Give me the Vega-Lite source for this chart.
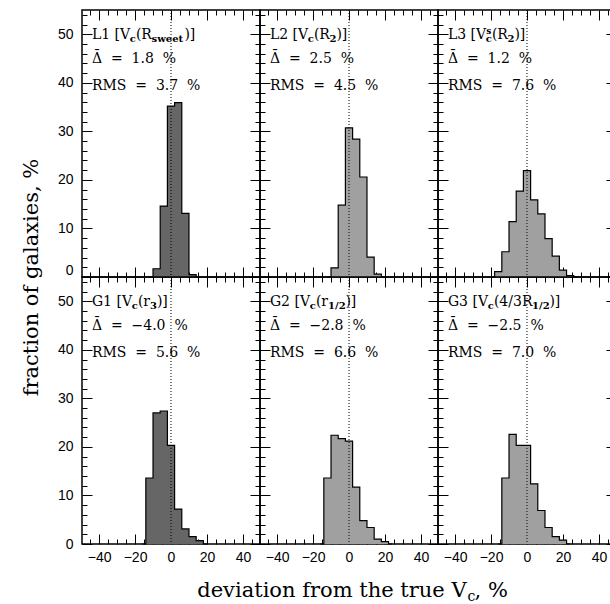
{
  "$schema": "https://vega.github.io/schema/vega-lite/v6.json",
  "background": "white",
  "padding": {"left": 19, "top": 7, "right": 0, "bottom": 0},
  "config": {
    "view": {"stroke": "black", "strokeWidth": 1.5},
    "axis": {"labelFont": "Liberation Sans", "labelFontSize": 14, "labelColor": "black", "tickColor": "black", "tickWidth": 1, "domain": false, "grid": false, "labelPadding": 19, "labelOverlap": false, "labelFlush": false},
    "text": {"font": "DejaVu Serif", "fontSize": 14, "align": "left", "baseline": "alphabetic", "color": "black"}
  },
  "datasets": {
    "h": [
      {"p": "L1", "d": -12, "f": 0}, {"p": "L1", "d": -8, "f": 1.7}, {"p": "L1", "d": -4, "f": 14.6}, {"p": "L1", "d": 0, "f": 35.2}, {"p": "L1", "d": 4, "f": 35.9}, {"p": "L1", "d": 8, "f": 13.1}, {"p": "L1", "d": 12, "f": 0.5}, {"p": "L1", "d": 16, "f": 0},
      {"p": "L2", "d": -12, "f": 0}, {"p": "L2", "d": -8, "f": 1.9}, {"p": "L2", "d": -4, "f": 14.8}, {"p": "L2", "d": 0, "f": 30.7}, {"p": "L2", "d": 4, "f": 28.4}, {"p": "L2", "d": 8, "f": 20.6}, {"p": "L2", "d": 12, "f": 4.1}, {"p": "L2", "d": 16, "f": 0.6}, {"p": "L2", "d": 20, "f": 0},
      {"p": "L3", "d": -20, "f": 0}, {"p": "L3", "d": -16, "f": 1.1}, {"p": "L3", "d": -12, "f": 5.2}, {"p": "L3", "d": -8, "f": 11.4}, {"p": "L3", "d": -4, "f": 17.7}, {"p": "L3", "d": 0, "f": 21.9}, {"p": "L3", "d": 4, "f": 15.9}, {"p": "L3", "d": 8, "f": 13.0}, {"p": "L3", "d": 12, "f": 7.9}, {"p": "L3", "d": 16, "f": 4.3}, {"p": "L3", "d": 20, "f": 1.4}, {"p": "L3", "d": 24, "f": 0.3}, {"p": "L3", "d": 28, "f": 0},
      {"p": "G1", "d": -16, "f": 0}, {"p": "G1", "d": -12, "f": 13.6}, {"p": "G1", "d": -8, "f": 27.0}, {"p": "G1", "d": -4, "f": 27.4}, {"p": "G1", "d": 0, "f": 20.3}, {"p": "G1", "d": 4, "f": 7.2}, {"p": "G1", "d": 8, "f": 3.1}, {"p": "G1", "d": 12, "f": 1.5}, {"p": "G1", "d": 16, "f": 0.7}, {"p": "G1", "d": 20, "f": 0},
      {"p": "G2", "d": -16, "f": 0}, {"p": "G2", "d": -12, "f": 13.6}, {"p": "G2", "d": -8, "f": 22.4}, {"p": "G2", "d": -4, "f": 21.7}, {"p": "G2", "d": 0, "f": 21.2}, {"p": "G2", "d": 4, "f": 11.7}, {"p": "G2", "d": 8, "f": 4.8}, {"p": "G2", "d": 12, "f": 3.4}, {"p": "G2", "d": 16, "f": 1.0}, {"p": "G2", "d": 20, "f": 0.5}, {"p": "G2", "d": 24, "f": 0},
      {"p": "G3", "d": -16, "f": 0}, {"p": "G3", "d": -12, "f": 13.6}, {"p": "G3", "d": -8, "f": 22.6}, {"p": "G3", "d": -4, "f": 20.3}, {"p": "G3", "d": 0, "f": 20.3}, {"p": "G3", "d": 4, "f": 12.4}, {"p": "G3", "d": 8, "f": 6.9}, {"p": "G3", "d": 12, "f": 3.4}, {"p": "G3", "d": 16, "f": 1.5}, {"p": "G3", "d": 20, "f": 0.8}, {"p": "G3", "d": 24, "f": 0}
    ]
  },
  "columns": 3,
  "spacing": 0,
  "bounds": "flush",
  "concat": [
    {
      "width": 178, "height": 267,
      "data": {"name": "h"},
      "layer": [
        {"transform": [{"filter": "datum.p === 'L1'"}], "mark": {"type": "area", "interpolate": "step", "color": "#666666"},
         "encoding": {
           "x": {"field": "d", "type": "quantitative", "scale": {"domain": [-49.5, 49.5], "nice": false, "zero": false},
                 "axis": {"orient": "bottom", "values": [-45,-40,-35,-30,-25,-20,-15,-10,-5,0,5,10,15,20,25,30,35,40,45], "tickSize": {"condition": {"test": "datum.value % 20 === 0", "value": -10}, "value": -5}, "labels": false, "title": null}},
           "y": {"field": "f", "type": "quantitative", "scale": {"domain": [0, 55], "nice": false, "zero": false},
                 "axis": {"orient": "left", "values": [0,2,4,6,8,10,12,14,16,18,20,22,24,26,28,30,32,34,36,38,40,42,44,46,48,50,52,54], "tickSize": {"condition": {"test": "datum.value % 10 === 0", "value": -10}, "value": -5}, "labelExpr": "datum.value % 10 === 0 ? datum.label : ''", "labelFlush": true,
                          "title": "fraction of galaxies, %", "titleFont": "DejaVu Serif", "titleFontSize": 21, "titleFontWeight": "normal", "titleColor": "black", "titleAngle": 270, "titleAlign": "center", "titleBaseline": "alphabetic", "titleX": -45, "titleY": 267}}
         }},
        {"transform": [{"filter": "datum.p === 'L1'"}], "mark": {"type": "line", "interpolate": "step", "color": "black", "strokeWidth": 1.2},
         "encoding": {
           "x": {"field": "d", "type": "quantitative", "axis": {"orient": "top", "values": [-45,-40,-35,-30,-25,-20,-15,-10,-5,0,5,10,15,20,25,30,35,40,45], "tickSize": {"condition": {"test": "datum.value % 20 === 0", "value": -10}, "value": -5}, "labels": false, "title": null}},
           "y": {"field": "f", "type": "quantitative", "axis": {"orient": "right", "values": [0,2,4,6,8,10,12,14,16,18,20,22,24,26,28,30,32,34,36,38,40,42,44,46,48,50,52,54], "tickSize": {"condition": {"test": "datum.value % 10 === 0", "value": -10}, "value": -5}, "labels": false, "title": null}}
         }},
        {"data": {"values": [{}]}, "mark": {"type": "rule", "color": "black", "strokeDash": [1, 2], "strokeWidth": 1}, "encoding": {"x": {"datum": 0, "type": "quantitative", "axis": null}}},
        {"data": {"values": [{}]}, "mark": {"type": "text", "text": "L1 [V"}, "encoding": {"x": {"datum": -44, "type": "quantitative", "axis": null}, "y": {"datum": 49.1, "type": "quantitative", "axis": null}}},
        {"data": {"values": [{}]}, "mark": {"type": "text", "text": "c", "dx": 37.8, "dy": 3.5, "fontSize": 10, "fontWeight": "bold"}, "encoding": {"x": {"datum": -44, "type": "quantitative", "axis": null}, "y": {"datum": 49.1, "type": "quantitative", "axis": null}}},
        {"data": {"values": [{}]}, "mark": {"type": "text", "text": "(R", "dx": 44.0}, "encoding": {"x": {"datum": -44, "type": "quantitative", "axis": null}, "y": {"datum": 49.1, "type": "quantitative", "axis": null}}},
        {"data": {"values": [{}]}, "mark": {"type": "text", "text": "sweet", "dx": 59.7, "dy": 3.5, "fontSize": 10, "fontWeight": "bold"}, "encoding": {"x": {"datum": -44, "type": "quantitative", "axis": null}, "y": {"datum": 49.1, "type": "quantitative", "axis": null}}},
        {"data": {"values": [{}]}, "mark": {"type": "text", "text": ")]", "dx": 92.5}, "encoding": {"x": {"datum": -44, "type": "quantitative", "axis": null}, "y": {"datum": 49.1, "type": "quantitative", "axis": null}}},
        {"data": {"values": [{}]}, "mark": {"type": "text", "text": "Δ\u00a0\u00a0=\u00a0\u00a01.8\u00a0\u00a0%"}, "encoding": {"x": {"datum": -44, "type": "quantitative", "axis": null}, "y": {"datum": 44.1, "type": "quantitative", "axis": null}}},
        {"data": {"values": [{}]}, "mark": {"type": "text", "text": "¯", "dx": 1.5, "dy": -2.5}, "encoding": {"x": {"datum": -44, "type": "quantitative", "axis": null}, "y": {"datum": 44.1, "type": "quantitative", "axis": null}}},
        {"data": {"values": [{}]}, "mark": {"type": "text", "text": "RMS\u00a0\u00a0=\u00a0\u00a03.7\u00a0\u00a0%"}, "encoding": {"x": {"datum": -44, "type": "quantitative", "axis": null}, "y": {"datum": 38.6, "type": "quantitative", "axis": null}}}
      ],
      "resolve": {"axis": {"x": "independent", "y": "independent"}}
    },
    {
      "width": 178, "height": 267,
      "data": {"name": "h"},
      "layer": [
        {"transform": [{"filter": "datum.p === 'L2'"}], "mark": {"type": "area", "interpolate": "step", "color": "#a0a0a0"},
         "encoding": {
           "x": {"field": "d", "type": "quantitative", "scale": {"domain": [-49.5, 49.5], "nice": false, "zero": false},
                 "axis": {"orient": "bottom", "values": [-45,-40,-35,-30,-25,-20,-15,-10,-5,0,5,10,15,20,25,30,35,40,45], "tickSize": {"condition": {"test": "datum.value % 20 === 0", "value": -10}, "value": -5}, "labels": false, "title": null}},
           "y": {"field": "f", "type": "quantitative", "scale": {"domain": [0, 55], "nice": false, "zero": false},
                 "axis": {"orient": "left", "values": [0,2,4,6,8,10,12,14,16,18,20,22,24,26,28,30,32,34,36,38,40,42,44,46,48,50,52,54], "tickSize": {"condition": {"test": "datum.value % 10 === 0", "value": -10}, "value": -5}, "labels": false, "title": null}}
         }},
        {"transform": [{"filter": "datum.p === 'L2'"}], "mark": {"type": "line", "interpolate": "step", "color": "black", "strokeWidth": 1.2},
         "encoding": {
           "x": {"field": "d", "type": "quantitative", "axis": {"orient": "top", "values": [-45,-40,-35,-30,-25,-20,-15,-10,-5,0,5,10,15,20,25,30,35,40,45], "tickSize": {"condition": {"test": "datum.value % 20 === 0", "value": -10}, "value": -5}, "labels": false, "title": null}},
           "y": {"field": "f", "type": "quantitative", "axis": {"orient": "right", "values": [0,2,4,6,8,10,12,14,16,18,20,22,24,26,28,30,32,34,36,38,40,42,44,46,48,50,52,54], "tickSize": {"condition": {"test": "datum.value % 10 === 0", "value": -10}, "value": -5}, "labels": false, "title": null}}
         }},
        {"data": {"values": [{}]}, "mark": {"type": "rule", "color": "black", "strokeDash": [1, 2], "strokeWidth": 1}, "encoding": {"x": {"datum": 0, "type": "quantitative", "axis": null}}},
        {"data": {"values": [{}]}, "mark": {"type": "text", "text": "L2 [V"}, "encoding": {"x": {"datum": -44, "type": "quantitative", "axis": null}, "y": {"datum": 49.1, "type": "quantitative", "axis": null}}},
        {"data": {"values": [{}]}, "mark": {"type": "text", "text": "c", "dx": 37.8, "dy": 3.5, "fontSize": 10, "fontWeight": "bold"}, "encoding": {"x": {"datum": -44, "type": "quantitative", "axis": null}, "y": {"datum": 49.1, "type": "quantitative", "axis": null}}},
        {"data": {"values": [{}]}, "mark": {"type": "text", "text": "(R", "dx": 44.0}, "encoding": {"x": {"datum": -44, "type": "quantitative", "axis": null}, "y": {"datum": 49.1, "type": "quantitative", "axis": null}}},
        {"data": {"values": [{}]}, "mark": {"type": "text", "text": "2", "dx": 59.7, "dy": 3.5, "fontSize": 10, "fontWeight": "bold"}, "encoding": {"x": {"datum": -44, "type": "quantitative", "axis": null}, "y": {"datum": 49.1, "type": "quantitative", "axis": null}}},
        {"data": {"values": [{}]}, "mark": {"type": "text", "text": ")]", "dx": 66.5}, "encoding": {"x": {"datum": -44, "type": "quantitative", "axis": null}, "y": {"datum": 49.1, "type": "quantitative", "axis": null}}},
        {"data": {"values": [{}]}, "mark": {"type": "text", "text": "Δ\u00a0\u00a0=\u00a0\u00a02.5\u00a0\u00a0%"}, "encoding": {"x": {"datum": -44, "type": "quantitative", "axis": null}, "y": {"datum": 44.1, "type": "quantitative", "axis": null}}},
        {"data": {"values": [{}]}, "mark": {"type": "text", "text": "¯", "dx": 1.5, "dy": -2.5}, "encoding": {"x": {"datum": -44, "type": "quantitative", "axis": null}, "y": {"datum": 44.1, "type": "quantitative", "axis": null}}},
        {"data": {"values": [{}]}, "mark": {"type": "text", "text": "RMS\u00a0\u00a0=\u00a0\u00a04.5\u00a0\u00a0%"}, "encoding": {"x": {"datum": -44, "type": "quantitative", "axis": null}, "y": {"datum": 38.6, "type": "quantitative", "axis": null}}}
      ],
      "resolve": {"axis": {"x": "independent", "y": "independent"}}
    },
    {
      "width": 178, "height": 267,
      "data": {"name": "h"},
      "layer": [
        {"transform": [{"filter": "datum.p === 'L3'"}], "mark": {"type": "area", "interpolate": "step", "color": "#a0a0a0"},
         "encoding": {
           "x": {"field": "d", "type": "quantitative", "scale": {"domain": [-49.5, 49.5], "nice": false, "zero": false},
                 "axis": {"orient": "bottom", "values": [-45,-40,-35,-30,-25,-20,-15,-10,-5,0,5,10,15,20,25,30,35,40,45], "tickSize": {"condition": {"test": "datum.value % 20 === 0", "value": -10}, "value": -5}, "labels": false, "title": null}},
           "y": {"field": "f", "type": "quantitative", "scale": {"domain": [0, 55], "nice": false, "zero": false},
                 "axis": {"orient": "left", "values": [0,2,4,6,8,10,12,14,16,18,20,22,24,26,28,30,32,34,36,38,40,42,44,46,48,50,52,54], "tickSize": {"condition": {"test": "datum.value % 10 === 0", "value": -10}, "value": -5}, "labels": false, "title": null}}
         }},
        {"transform": [{"filter": "datum.p === 'L3'"}], "mark": {"type": "line", "interpolate": "step", "color": "black", "strokeWidth": 1.2},
         "encoding": {
           "x": {"field": "d", "type": "quantitative", "axis": {"orient": "top", "values": [-45,-40,-35,-30,-25,-20,-15,-10,-5,0,5,10,15,20,25,30,35,40,45], "tickSize": {"condition": {"test": "datum.value % 20 === 0", "value": -10}, "value": -5}, "labels": false, "title": null}},
           "y": {"field": "f", "type": "quantitative", "axis": {"orient": "right", "values": [0,2,4,6,8,10,12,14,16,18,20,22,24,26,28,30,32,34,36,38,40,42,44,46,48,50,52,54], "tickSize": {"condition": {"test": "datum.value % 10 === 0", "value": -10}, "value": -5}, "labels": false, "title": null}}
         }},
        {"data": {"values": [{}]}, "mark": {"type": "rule", "color": "black", "strokeDash": [1, 2], "strokeWidth": 1}, "encoding": {"x": {"datum": 0, "type": "quantitative", "axis": null}}},
        {"data": {"values": [{}]}, "mark": {"type": "text", "text": "L3 [V"}, "encoding": {"x": {"datum": -44, "type": "quantitative", "axis": null}, "y": {"datum": 49.1, "type": "quantitative", "axis": null}}},
        {"data": {"values": [{}]}, "mark": {"type": "text", "text": "s", "dx": 38.3, "dy": -5, "fontSize": 9, "fontWeight": "bold"}, "encoding": {"x": {"datum": -44, "type": "quantitative", "axis": null}, "y": {"datum": 49.1, "type": "quantitative", "axis": null}}},
        {"data": {"values": [{}]}, "mark": {"type": "text", "text": "c", "dx": 37.8, "dy": 3.5, "fontSize": 10, "fontWeight": "bold"}, "encoding": {"x": {"datum": -44, "type": "quantitative", "axis": null}, "y": {"datum": 49.1, "type": "quantitative", "axis": null}}},
        {"data": {"values": [{}]}, "mark": {"type": "text", "text": "(R", "dx": 44.0}, "encoding": {"x": {"datum": -44, "type": "quantitative", "axis": null}, "y": {"datum": 49.1, "type": "quantitative", "axis": null}}},
        {"data": {"values": [{}]}, "mark": {"type": "text", "text": "2", "dx": 59.7, "dy": 3.5, "fontSize": 10, "fontWeight": "bold"}, "encoding": {"x": {"datum": -44, "type": "quantitative", "axis": null}, "y": {"datum": 49.1, "type": "quantitative", "axis": null}}},
        {"data": {"values": [{}]}, "mark": {"type": "text", "text": ")]", "dx": 66.5}, "encoding": {"x": {"datum": -44, "type": "quantitative", "axis": null}, "y": {"datum": 49.1, "type": "quantitative", "axis": null}}},
        {"data": {"values": [{}]}, "mark": {"type": "text", "text": "Δ\u00a0\u00a0=\u00a0\u00a01.2\u00a0\u00a0%"}, "encoding": {"x": {"datum": -44, "type": "quantitative", "axis": null}, "y": {"datum": 44.1, "type": "quantitative", "axis": null}}},
        {"data": {"values": [{}]}, "mark": {"type": "text", "text": "¯", "dx": 1.5, "dy": -2.5}, "encoding": {"x": {"datum": -44, "type": "quantitative", "axis": null}, "y": {"datum": 44.1, "type": "quantitative", "axis": null}}},
        {"data": {"values": [{}]}, "mark": {"type": "text", "text": "RMS\u00a0\u00a0=\u00a0\u00a07.6\u00a0\u00a0%"}, "encoding": {"x": {"datum": -44, "type": "quantitative", "axis": null}, "y": {"datum": 38.6, "type": "quantitative", "axis": null}}}
      ],
      "resolve": {"axis": {"x": "independent", "y": "independent"}}
    },
    {
      "width": 178, "height": 267,
      "data": {"name": "h"},
      "layer": [
        {"transform": [{"filter": "datum.p === 'G1'"}], "mark": {"type": "area", "interpolate": "step", "color": "#666666"},
         "encoding": {
           "x": {"field": "d", "type": "quantitative", "scale": {"domain": [-49.5, 49.5], "nice": false, "zero": false},
                 "axis": {"orient": "bottom", "values": [-45,-40,-35,-30,-25,-20,-15,-10,-5,0,5,10,15,20,25,30,35,40,45], "tickSize": {"condition": {"test": "datum.value % 20 === 0", "value": -10}, "value": -5}, "labelExpr": "datum.value % 20 === 0 ? datum.label : ''", "labelPadding": 16, "title": null}},
           "y": {"field": "f", "type": "quantitative", "scale": {"domain": [0, 55], "nice": false, "zero": false},
                 "axis": {"orient": "left", "values": [0,2,4,6,8,10,12,14,16,18,20,22,24,26,28,30,32,34,36,38,40,42,44,46,48,50,52,54], "tickSize": {"condition": {"test": "datum.value % 10 === 0", "value": -10}, "value": -5}, "labelExpr": "datum.value % 10 === 0 ? datum.label : ''", "title": null}}
         }},
        {"transform": [{"filter": "datum.p === 'G1'"}], "mark": {"type": "line", "interpolate": "step", "color": "black", "strokeWidth": 1.2},
         "encoding": {
           "x": {"field": "d", "type": "quantitative", "axis": {"orient": "top", "values": [-45,-40,-35,-30,-25,-20,-15,-10,-5,0,5,10,15,20,25,30,35,40,45], "tickSize": {"condition": {"test": "datum.value % 20 === 0", "value": -10}, "value": -5}, "labels": false, "title": null}},
           "y": {"field": "f", "type": "quantitative", "axis": {"orient": "right", "values": [0,2,4,6,8,10,12,14,16,18,20,22,24,26,28,30,32,34,36,38,40,42,44,46,48,50,52,54], "tickSize": {"condition": {"test": "datum.value % 10 === 0", "value": -10}, "value": -5}, "labels": false, "title": null}}
         }},
        {"data": {"values": [{}]}, "mark": {"type": "rule", "color": "black", "strokeDash": [1, 2], "strokeWidth": 1}, "encoding": {"x": {"datum": 0, "type": "quantitative", "axis": null}}},
        {"data": {"values": [{}]}, "mark": {"type": "text", "text": "G1 [V"}, "encoding": {"x": {"datum": -44, "type": "quantitative", "axis": null}, "y": {"datum": 49.1, "type": "quantitative", "axis": null}}},
        {"data": {"values": [{}]}, "mark": {"type": "text", "text": "c", "dx": 39.8, "dy": 3.5, "fontSize": 10, "fontWeight": "bold"}, "encoding": {"x": {"datum": -44, "type": "quantitative", "axis": null}, "y": {"datum": 49.1, "type": "quantitative", "axis": null}}},
        {"data": {"values": [{}]}, "mark": {"type": "text", "text": "(r", "dx": 46.0}, "encoding": {"x": {"datum": -44, "type": "quantitative", "axis": null}, "y": {"datum": 49.1, "type": "quantitative", "axis": null}}},
        {"data": {"values": [{}]}, "mark": {"type": "text", "text": "3", "dx": 58.2, "dy": 3.5, "fontSize": 10, "fontWeight": "bold"}, "encoding": {"x": {"datum": -44, "type": "quantitative", "axis": null}, "y": {"datum": 49.1, "type": "quantitative", "axis": null}}},
        {"data": {"values": [{}]}, "mark": {"type": "text", "text": ")]", "dx": 65.0}, "encoding": {"x": {"datum": -44, "type": "quantitative", "axis": null}, "y": {"datum": 49.1, "type": "quantitative", "axis": null}}},
        {"data": {"values": [{}]}, "mark": {"type": "text", "text": "Δ\u00a0\u00a0=\u00a0\u00a0−4.0\u00a0\u00a0%"}, "encoding": {"x": {"datum": -44, "type": "quantitative", "axis": null}, "y": {"datum": 44.1, "type": "quantitative", "axis": null}}},
        {"data": {"values": [{}]}, "mark": {"type": "text", "text": "¯", "dx": 1.5, "dy": -2.5}, "encoding": {"x": {"datum": -44, "type": "quantitative", "axis": null}, "y": {"datum": 44.1, "type": "quantitative", "axis": null}}},
        {"data": {"values": [{}]}, "mark": {"type": "text", "text": "RMS\u00a0\u00a0=\u00a0\u00a05.6\u00a0\u00a0%"}, "encoding": {"x": {"datum": -44, "type": "quantitative", "axis": null}, "y": {"datum": 38.6, "type": "quantitative", "axis": null}}}
      ],
      "resolve": {"axis": {"x": "independent", "y": "independent"}}
    },
    {
      "width": 178, "height": 267,
      "data": {"name": "h"},
      "layer": [
        {"transform": [{"filter": "datum.p === 'G2'"}], "mark": {"type": "area", "interpolate": "step", "color": "#a0a0a0"},
         "encoding": {
           "x": {"field": "d", "type": "quantitative", "scale": {"domain": [-49.5, 49.5], "nice": false, "zero": false},
                 "axis": {"orient": "bottom", "values": [-45,-40,-35,-30,-25,-20,-15,-10,-5,0,5,10,15,20,25,30,35,40,45], "tickSize": {"condition": {"test": "datum.value % 20 === 0", "value": -10}, "value": -5}, "labelExpr": "datum.value % 20 === 0 ? datum.label : ''", "labelPadding": 16, "title": null}},
           "y": {"field": "f", "type": "quantitative", "scale": {"domain": [0, 55], "nice": false, "zero": false},
                 "axis": {"orient": "left", "values": [0,2,4,6,8,10,12,14,16,18,20,22,24,26,28,30,32,34,36,38,40,42,44,46,48,50,52,54], "tickSize": {"condition": {"test": "datum.value % 10 === 0", "value": -10}, "value": -5}, "labels": false, "title": null}}
         }},
        {"transform": [{"filter": "datum.p === 'G2'"}], "mark": {"type": "line", "interpolate": "step", "color": "black", "strokeWidth": 1.2},
         "encoding": {
           "x": {"field": "d", "type": "quantitative", "axis": {"orient": "top", "values": [-45,-40,-35,-30,-25,-20,-15,-10,-5,0,5,10,15,20,25,30,35,40,45], "tickSize": {"condition": {"test": "datum.value % 20 === 0", "value": -10}, "value": -5}, "labels": false, "title": null}},
           "y": {"field": "f", "type": "quantitative", "axis": {"orient": "right", "values": [0,2,4,6,8,10,12,14,16,18,20,22,24,26,28,30,32,34,36,38,40,42,44,46,48,50,52,54], "tickSize": {"condition": {"test": "datum.value % 10 === 0", "value": -10}, "value": -5}, "labels": false, "title": null}}
         }},
        {"data": {"values": [{}]}, "mark": {"type": "rule", "color": "black", "strokeDash": [1, 2], "strokeWidth": 1}, "encoding": {"x": {"datum": 0, "type": "quantitative", "axis": null}}},
        {"data": {"values": [{}]}, "mark": {"type": "text", "text": "G2 [V"}, "encoding": {"x": {"datum": -44, "type": "quantitative", "axis": null}, "y": {"datum": 49.1, "type": "quantitative", "axis": null}}},
        {"data": {"values": [{}]}, "mark": {"type": "text", "text": "c", "dx": 39.8, "dy": 3.5, "fontSize": 10, "fontWeight": "bold"}, "encoding": {"x": {"datum": -44, "type": "quantitative", "axis": null}, "y": {"datum": 49.1, "type": "quantitative", "axis": null}}},
        {"data": {"values": [{}]}, "mark": {"type": "text", "text": "(r", "dx": 46.0}, "encoding": {"x": {"datum": -44, "type": "quantitative", "axis": null}, "y": {"datum": 49.1, "type": "quantitative", "axis": null}}},
        {"data": {"values": [{}]}, "mark": {"type": "text", "text": "1/2", "dx": 58.2, "dy": 3.5, "fontSize": 10, "fontWeight": "bold"}, "encoding": {"x": {"datum": -44, "type": "quantitative", "axis": null}, "y": {"datum": 49.1, "type": "quantitative", "axis": null}}},
        {"data": {"values": [{}]}, "mark": {"type": "text", "text": ")]", "dx": 75.5}, "encoding": {"x": {"datum": -44, "type": "quantitative", "axis": null}, "y": {"datum": 49.1, "type": "quantitative", "axis": null}}},
        {"data": {"values": [{}]}, "mark": {"type": "text", "text": "Δ\u00a0\u00a0=\u00a0\u00a0−2.8\u00a0\u00a0%"}, "encoding": {"x": {"datum": -44, "type": "quantitative", "axis": null}, "y": {"datum": 44.1, "type": "quantitative", "axis": null}}},
        {"data": {"values": [{}]}, "mark": {"type": "text", "text": "¯", "dx": 1.5, "dy": -2.5}, "encoding": {"x": {"datum": -44, "type": "quantitative", "axis": null}, "y": {"datum": 44.1, "type": "quantitative", "axis": null}}},
        {"data": {"values": [{}]}, "mark": {"type": "text", "text": "RMS\u00a0\u00a0=\u00a0\u00a06.6\u00a0\u00a0%"}, "encoding": {"x": {"datum": -44, "type": "quantitative", "axis": null}, "y": {"datum": 38.6, "type": "quantitative", "axis": null}}},
        {"data": {"values": [{}]}, "mark": {"type": "text", "text": "deviation from the true V", "align": "right", "fontSize": 21}, "encoding": {"x": {"datum": 65.4, "type": "quantitative", "axis": null}, "y": {"datum": -11.0, "type": "quantitative", "axis": null}}},
        {"data": {"values": [{}]}, "mark": {"type": "text", "text": "c", "dx": 1, "dy": 4, "fontSize": 14}, "encoding": {"x": {"datum": 65.4, "type": "quantitative", "axis": null}, "y": {"datum": -11.0, "type": "quantitative", "axis": null}}},
        {"data": {"values": [{}]}, "mark": {"type": "text", "text": ", %", "dx": 8, "fontSize": 21}, "encoding": {"x": {"datum": 65.4, "type": "quantitative", "axis": null}, "y": {"datum": -11.0, "type": "quantitative", "axis": null}}}
      ],
      "resolve": {"axis": {"x": "independent", "y": "independent"}}
    },
    {
      "width": 178, "height": 267,
      "data": {"name": "h"},
      "layer": [
        {"transform": [{"filter": "datum.p === 'G3'"}], "mark": {"type": "area", "interpolate": "step", "color": "#a0a0a0"},
         "encoding": {
           "x": {"field": "d", "type": "quantitative", "scale": {"domain": [-49.5, 49.5], "nice": false, "zero": false},
                 "axis": {"orient": "bottom", "values": [-45,-40,-35,-30,-25,-20,-15,-10,-5,0,5,10,15,20,25,30,35,40,45], "tickSize": {"condition": {"test": "datum.value % 20 === 0", "value": -10}, "value": -5}, "labelExpr": "datum.value % 20 === 0 ? datum.label : ''", "labelPadding": 16, "title": null}},
           "y": {"field": "f", "type": "quantitative", "scale": {"domain": [0, 55], "nice": false, "zero": false},
                 "axis": {"orient": "left", "values": [0,2,4,6,8,10,12,14,16,18,20,22,24,26,28,30,32,34,36,38,40,42,44,46,48,50,52,54], "tickSize": {"condition": {"test": "datum.value % 10 === 0", "value": -10}, "value": -5}, "labels": false, "title": null}}
         }},
        {"transform": [{"filter": "datum.p === 'G3'"}], "mark": {"type": "line", "interpolate": "step", "color": "black", "strokeWidth": 1.2},
         "encoding": {
           "x": {"field": "d", "type": "quantitative", "axis": {"orient": "top", "values": [-45,-40,-35,-30,-25,-20,-15,-10,-5,0,5,10,15,20,25,30,35,40,45], "tickSize": {"condition": {"test": "datum.value % 20 === 0", "value": -10}, "value": -5}, "labels": false, "title": null}},
           "y": {"field": "f", "type": "quantitative", "axis": {"orient": "right", "values": [0,2,4,6,8,10,12,14,16,18,20,22,24,26,28,30,32,34,36,38,40,42,44,46,48,50,52,54], "tickSize": {"condition": {"test": "datum.value % 10 === 0", "value": -10}, "value": -5}, "labels": false, "title": null}}
         }},
        {"data": {"values": [{}]}, "mark": {"type": "rule", "color": "black", "strokeDash": [1, 2], "strokeWidth": 1}, "encoding": {"x": {"datum": 0, "type": "quantitative", "axis": null}}},
        {"data": {"values": [{}]}, "mark": {"type": "text", "text": "G3 [V"}, "encoding": {"x": {"datum": -44, "type": "quantitative", "axis": null}, "y": {"datum": 49.1, "type": "quantitative", "axis": null}}},
        {"data": {"values": [{}]}, "mark": {"type": "text", "text": "c", "dx": 39.8, "dy": 3.5, "fontSize": 10, "fontWeight": "bold"}, "encoding": {"x": {"datum": -44, "type": "quantitative", "axis": null}, "y": {"datum": 49.1, "type": "quantitative", "axis": null}}},
        {"data": {"values": [{}]}, "mark": {"type": "text", "text": "(4/3R", "dx": 46.0}, "encoding": {"x": {"datum": -44, "type": "quantitative", "axis": null}, "y": {"datum": 49.1, "type": "quantitative", "axis": null}}},
        {"data": {"values": [{}]}, "mark": {"type": "text", "text": "1/2", "dx": 84.2, "dy": 3.5, "fontSize": 10, "fontWeight": "bold"}, "encoding": {"x": {"datum": -44, "type": "quantitative", "axis": null}, "y": {"datum": 49.1, "type": "quantitative", "axis": null}}},
        {"data": {"values": [{}]}, "mark": {"type": "text", "text": ")]", "dx": 101.5}, "encoding": {"x": {"datum": -44, "type": "quantitative", "axis": null}, "y": {"datum": 49.1, "type": "quantitative", "axis": null}}},
        {"data": {"values": [{}]}, "mark": {"type": "text", "text": "Δ\u00a0\u00a0=\u00a0\u00a0−2.5\u00a0\u00a0%"}, "encoding": {"x": {"datum": -44, "type": "quantitative", "axis": null}, "y": {"datum": 44.1, "type": "quantitative", "axis": null}}},
        {"data": {"values": [{}]}, "mark": {"type": "text", "text": "¯", "dx": 1.5, "dy": -2.5}, "encoding": {"x": {"datum": -44, "type": "quantitative", "axis": null}, "y": {"datum": 44.1, "type": "quantitative", "axis": null}}},
        {"data": {"values": [{}]}, "mark": {"type": "text", "text": "RMS\u00a0\u00a0=\u00a0\u00a07.0\u00a0\u00a0%"}, "encoding": {"x": {"datum": -44, "type": "quantitative", "axis": null}, "y": {"datum": 38.6, "type": "quantitative", "axis": null}}}
      ],
      "resolve": {"axis": {"x": "independent", "y": "independent"}}
    }
  ]
}
